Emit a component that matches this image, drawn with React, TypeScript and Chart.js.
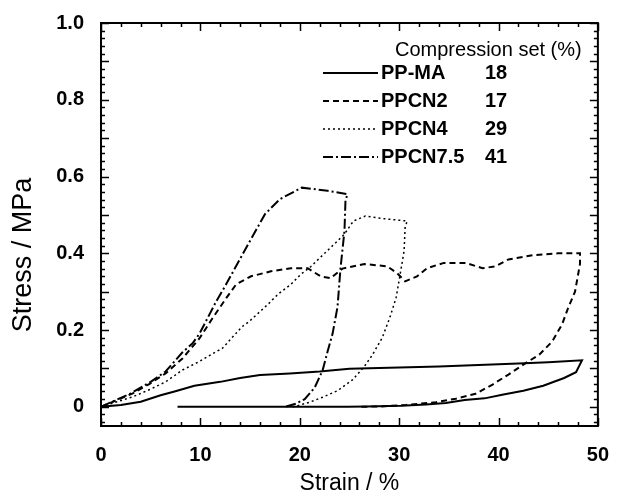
import React, { useEffect, useRef } from 'react';
import { Chart, registerables } from 'chart.js';

Chart.register(...registerables);

const FONT = '"Liberation Sans", Arial, Helvetica, sans-serif';

// Legend / series info
const seriesNames = ['PP-MA', 'PPCN2', 'PPCN4', 'PPCN7.5'];
const compressionSet = [18, 17, 29, 41];
const legendHeader = 'Compression set (%)';
const xTitle = 'Strain / %';
const yTitle = 'Stress / MPa';

// Axis ticks
const xTickValues = [0, 10, 20, 30, 40, 50];
const xTickLabels = ['0', '10', '20', '30', '40', '50'];
const yTickValues = [0, 0.2, 0.4, 0.6, 0.8, 1.0];
const yTickLabels = ['0', '0.2', '0.4', '0.6', '0.8', '1.0'];

// PP-MA (loading then unloading)
const ppmaStrain = [0, 2, 4, 6, 7.4, 9.4, 12, 14, 16, 19, 22, 25, 28, 31, 34, 38, 42, 45, 48.4,
  47.8, 46.6, 44.5, 42.5, 40.5, 38.6, 36.6, 34.7, 32.7, 30.2, 26.7, 24.8, 7.7];
const ppmaStress = [0, 0.005, 0.013, 0.03, 0.04, 0.055, 0.065, 0.075, 0.083, 0.087, 0.092, 0.099, 0.101, 0.103, 0.105, 0.109, 0.113, 0.116, 0.121,
  0.09, 0.075, 0.055, 0.042, 0.032, 0.022, 0.018, 0.01, 0.006, 0.003, 0.001, 0, 0];

// PPCN2
const ppcn2Strain = [0, 3.2, 4.9, 6.5, 8.2, 9.9, 11.2, 12.6, 13.6, 15.1, 17.1, 19.1, 20.8, 22.1, 23.1, 24.3, 26.5, 28.8, 29.8, 30.6, 31.8, 32.8, 34.5, 36.7, 38.4, 39.7, 41.0, 43.5, 46.0, 48.2,
  48.2, 47.7, 47.0, 46.4, 45.4, 44.1, 42.5, 41.0, 39.4, 37.7, 35.7, 33.7, 30.7, 28.2, 26.2];
const ppcn2Stress = [0, 0.035, 0.06, 0.087, 0.126, 0.178, 0.23, 0.283, 0.319, 0.34, 0.353, 0.361, 0.361, 0.34, 0.335, 0.36, 0.372, 0.366, 0.348, 0.327, 0.34, 0.361, 0.375, 0.375, 0.361, 0.366, 0.384, 0.395, 0.4, 0.4,
  0.372, 0.3, 0.257, 0.215, 0.17, 0.136, 0.11, 0.084, 0.058, 0.034, 0.021, 0.012, 0.005, 0.001, 0];

// PPCN4
const ppcn4Strain = [0, 3.2, 4.9, 6.5, 8.2, 9.9, 11.6, 12.2, 14.2, 14.9, 16.8, 17.8, 19.1, 20.1, 21.1, 22.1, 23.8, 24.5, 25.4, 26.6, 28.5, 30.8,
  30.6, 30.5, 30.1, 29.7, 29.1, 28.3, 27.3, 26.5, 25.3, 23.8, 22.3, 21.0, 19.8, 19.3];
const ppcn4Stress = [0, 0.026, 0.045, 0.065, 0.096, 0.118, 0.144, 0.152, 0.209, 0.222, 0.267, 0.293, 0.319, 0.345, 0.365, 0.39, 0.432, 0.45, 0.484, 0.497, 0.49, 0.484,
  0.466, 0.406, 0.345, 0.285, 0.235, 0.18, 0.135, 0.105, 0.07, 0.042, 0.025, 0.012, 0.003, 0];

// PPCN7.5
const ppcn75Strain = [0, 3, 5, 6.5, 8.2, 9.2, 9.9, 11.6, 12.5, 14.6, 16.5, 18.0, 20.2, 22.8, 24.8,
  24.6, 24.5, 24.1, 23.8, 23.3, 22.8, 22.3, 21.5, 20.5, 19.6, 18.5];
const ppcn75Stress = [0, 0.035, 0.065, 0.092, 0.142, 0.165, 0.19, 0.275, 0.315, 0.414, 0.502, 0.541, 0.571, 0.563, 0.554,
  0.537, 0.458, 0.361, 0.26, 0.19, 0.144, 0.095, 0.05, 0.02, 0.008, 0];

const strains = [ppmaStrain, ppcn2Strain, ppcn4Strain, ppcn75Strain];
const stresses = [ppmaStress, ppcn2Stress, ppcn4Stress, ppcn75Stress];
const dashes: number[][] = [[], [6, 4], [2, 3], [10, 3, 2, 3]];
const widths = [2, 2, 1.5, 2];

const frameTicksPlugin = {
  id: 'frameTicks',
  afterDraw(chart: any) {
    const { ctx, chartArea } = chart;
    const xs = chart.scales.x;
    const ys = chart.scales.y;
    const { left, right, top, bottom } = chartArea;
    ctx.save();
    ctx.strokeStyle = '#000';
    ctx.lineWidth = 2;
    ctx.setLineDash([]);
    ctx.strokeRect(left, top, right - left, bottom - top);
    ctx.lineWidth = 1.5;
    ctx.beginPath();
    for (let i = 0; i <= 25; i++) {
      const v = i * 2;
      const px = Math.round(xs.getPixelForValue(v)) + 0.5;
      const len = i % 5 === 0 ? 8 : 4;
      ctx.moveTo(px, bottom);
      ctx.lineTo(px, bottom - len);
      ctx.moveTo(px, top);
      ctx.lineTo(px, top + len);
    }
    for (let i = -2; i <= 50; i++) {
      const v = i * 0.02;
      const py = Math.round(ys.getPixelForValue(v)) + 0.5;
      if (py > bottom || py < top - 1) continue;
      const len = i % 5 === 0 ? 8 : 4;
      ctx.moveTo(left, py);
      ctx.lineTo(left + len, py);
      ctx.moveTo(right, py);
      ctx.lineTo(right - len, py);
    }
    ctx.stroke();
    ctx.restore();
  },
};

const yTitlePlugin = {
  id: 'yTitle',
  afterDraw(chart: any) {
    const { ctx } = chart;
    ctx.save();
    ctx.fillStyle = '#000';
    ctx.font = `27px ${FONT}`;
    ctx.textAlign = 'center';
    ctx.textBaseline = 'middle';
    ctx.translate(24, 255);
    ctx.rotate(-Math.PI / 2);
    ctx.fillText(yTitle, 0, 0);
    ctx.restore();
  },
};

const legendPlugin = {
  id: 'customLegend',
  afterDraw(chart: any) {
    const { ctx } = chart;
    ctx.save();
    ctx.fillStyle = '#000';
    ctx.textBaseline = 'middle';
    ctx.textAlign = 'left';
    ctx.font = `20px ${FONT}`;
    ctx.fillText(legendHeader, 395, 50);
    for (let i = 0; i < seriesNames.length; i++) {
      const y = 73 + i * 28;
      ctx.strokeStyle = '#000';
      ctx.lineWidth = widths[i];
      ctx.setLineDash(dashes[i]);
      ctx.beginPath();
      ctx.moveTo(323, y);
      ctx.lineTo(378, y);
      ctx.stroke();
      ctx.setLineDash([]);
      ctx.font = `bold 20px ${FONT}`;
      ctx.fillText(seriesNames[i], 381, y);
      ctx.fillText(String(compressionSet[i]), 485, y);
    }
    ctx.restore();
  },
};

export default function App() {
  const ref = useRef<HTMLCanvasElement | null>(null);
  useEffect(() => {
    if (!ref.current) return;
    const datasets = seriesNames.map((name, i) => ({
      label: name,
      data: strains[i].map((x, j) => ({ x, y: stresses[i][j] })),
      borderColor: '#000',
      backgroundColor: '#000',
      borderWidth: widths[i],
      borderDash: dashes[i],
      pointRadius: 0,
      tension: 0,
      fill: false,
    }));
    const chart = new Chart(ref.current, {
      type: 'line',
      data: { datasets },
      options: {
        animation: false,
        responsive: false,
        devicePixelRatio: 1,
        layout: { padding: { left: 0, right: 15, top: 23, bottom: 0 } },
        plugins: { legend: { display: false }, tooltip: { enabled: false } },
        scales: {
          x: {
            type: 'linear',
            min: 0,
            max: 50,
            grid: { display: false },
            border: { display: false },
            afterBuildTicks: (s: any) => { s.ticks = xTickValues.map((value) => ({ value })); },
            afterFit: (s: any) => { s.height = 72; },
            ticks: {
              color: '#000',
              font: { family: FONT, size: 20, weight: 'bold' },
              padding: 9,
              maxRotation: 0,
              autoSkip: false,
              callback: (v: any) => xTickLabels[xTickValues.indexOf(Number(v))] ?? '',
            },
            title: {
              display: true,
              text: xTitle,
              color: '#000',
              font: { family: FONT, size: 23, weight: 'normal' },
              padding: { top: 0, bottom: 1 },
            },
          },
          y: {
            type: 'linear',
            min: -0.05,
            max: 1.0,
            grid: { display: false },
            border: { display: false },
            afterBuildTicks: (s: any) => { s.ticks = yTickValues.map((value) => ({ value })); },
            afterFit: (s: any) => { s.width = 101; },
            ticks: {
              color: '#000',
              font: { family: FONT, size: 20, weight: 'bold' },
              padding: 9,
              autoSkip: false,
              callback: (v: any) => {
                const idx = yTickValues.findIndex((t) => Math.abs(t - Number(v)) < 1e-9);
                return idx >= 0 ? yTickLabels[idx] : '';
              },
            },
            title: { display: false },
          },
        },
      },
      plugins: [frameTicksPlugin, yTitlePlugin, legendPlugin],
    } as any);
    return () => chart.destroy();
  }, []);
  return (
    <div style={{ position: 'fixed', left: 0, top: 0, width: 618, height: 498, background: '#fff' }}>
      <canvas ref={ref} width={618} height={498} style={{ display: 'block' }} />
    </div>
  );
}
